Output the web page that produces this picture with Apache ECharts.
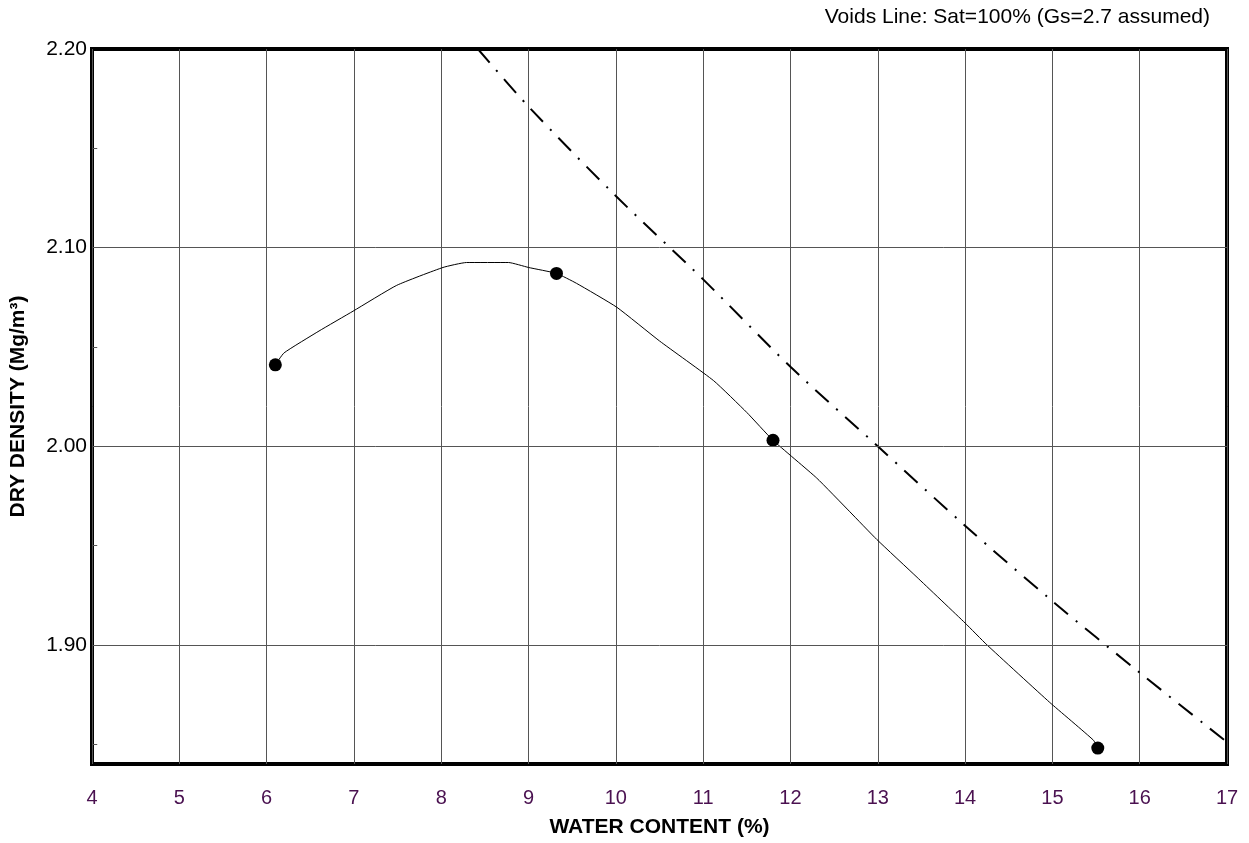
<!DOCTYPE html>
<html>
<head>
<meta charset="utf-8">
<script src="https://cdn.jsdelivr.net/npm/echarts@6/dist/echarts.min.js"></script>
<style>html,body{margin:0;padding:0;background:#fff}#c{width:1249px;height:843px}</style>
</head>
<body>
<div id="c"></div>
<script>
// Test points (water content %, dry density Mg/m3)
const testPoints = [[6.10, 2.041], [9.32, 2.087], [11.80, 2.003], [15.52, 1.848]];
// Fitted compaction curve
const fitCurve = [
  [6.10, 2.041], [6.20, 2.047], [6.60, 2.058], [6.99, 2.068], [7.49, 2.081], [8.02, 2.090],
  [8.29, 2.0925], [8.77, 2.0925], [9.00, 2.090], [9.32, 2.087], [9.55, 2.082],
  [10.01, 2.070], [10.50, 2.053], [11.12, 2.033], [11.50, 2.017], [11.80, 2.003],
  [12.30, 1.984], [12.68, 1.967], [12.99, 1.953], [13.45, 1.934], [14.00, 1.911],
  [14.25, 1.900], [14.97, 1.871], [15.47, 1.852], [15.52, 1.848]
];
// Zero air voids line (Sat = 100%)
const voidsLine = [
  [8.42, 2.200], [9, 2.171], [10, 2.126], [11, 2.084], [12, 2.040], [13, 2.000],
  [14, 1.960], [15, 1.922], [16, 1.886], [17, 1.851]
];
const xMin = 4, xMax = 17, xStep = 1;
const yMin = 1.84, yMax = 2.20;
const yTicks = [1.90, 2.00, 2.10, 2.20];
const yMinorTicks = [2.15, 2.05, 1.95, 1.85];
const titleText = 'Voids Line: Sat=100% (Gs=2.7 assumed)';
const xName = 'WATER CONTENT (%)';
const yName = 'DRY DENSITY (Mg/m³)';

const chart = echarts.init(document.getElementById('c'), null, {renderer: 'canvas'});
const font = 'Liberation Sans, Arial, sans-serif';
chart.setOption({
  animation: false,
  backgroundColor: '#fff',
  textStyle: {fontFamily: font},
  title: {
    text: titleText, right: 34, top: 2,
    textStyle: {fontFamily: font, fontSize: 21, fontWeight: 'normal', color: '#000'}
  },
  grid: {left: 92, right: 22, top: 49, bottom: 78, show: true, borderColor: '#000', borderWidth: 4, backgroundColor: 'transparent'},
  xAxis: {
    type: 'value', min: xMin, max: xMax, interval: xStep,
    name: xName, nameLocation: 'middle', nameGap: 53,
    nameTextStyle: {fontFamily: font, fontSize: 21, fontWeight: 'bold', color: '#000'},
    axisLine: {show: false}, axisTick: {show: false},
    axisLabel: {fontFamily: font, fontSize: 20, color: '#4a1150', margin: 24},
    splitLine: {show: true, lineStyle: {color: '#555', width: 1}}
  },
  yAxis: {
    type: 'value', min: yMin, max: yMax,
    name: yName, nameLocation: 'middle', nameGap: 63, nameRotate: 90,
    nameTextStyle: {fontFamily: font, fontSize: 21, fontWeight: 'bold', color: '#000'},
    axisLine: {show: false},
    axisTick: {show: false},
    axisLabel: {
      fontFamily: font, fontSize: 21, color: '#000', margin: 5,
      customValues: yTicks,
      formatter: v => v.toFixed(2)
    },
    splitLine: {show: false}
  },
  series: [
    {
      type: 'line', data: yTicks.map(v => [xMin, v]), silent: true, symbol: 'none',
      lineStyle: {opacity: 0},
      markLine: {
        silent: true, symbol: 'none', label: {show: false},
        lineStyle: {color: '#555', width: 1, type: 'solid'},
        data: yTicks.filter(v => v < yMax).map(v => [{coord: [xMin, v]}, {coord: [xMax, v]}])
      }
    },
    {
      type: 'line', data: [[xMin, 2.15]], symbol: 'none', lineStyle: {opacity: 0}, silent: true,
      markLine: {
        silent: true, symbol: 'none', label: {show: false},
        lineStyle: {color: '#555', width: 1, type: 'solid'},
        data: yMinorTicks.map(v => [{coord: [xMin, v]}, {coord: [xMin + 0.06, v]}])
      }
    },
    {
      name: 'voids', type: 'line', data: voidsLine, smooth: 0.3, symbol: 'none', clip: true,
      lineStyle: {color: '#000', width: 2, type: [18, 10, 2, 10]}
    },
    {
      name: 'curve', type: 'line', data: fitCurve, smooth: 0.15, symbol: 'none',
      lineStyle: {color: '#000', width: 1}
    },
    {
      name: 'points', type: 'scatter', data: testPoints, symbol: 'circle', symbolSize: 13,
      itemStyle: {color: '#000', opacity: 1}
    }
  ]
});
</script>
</body>
</html>
